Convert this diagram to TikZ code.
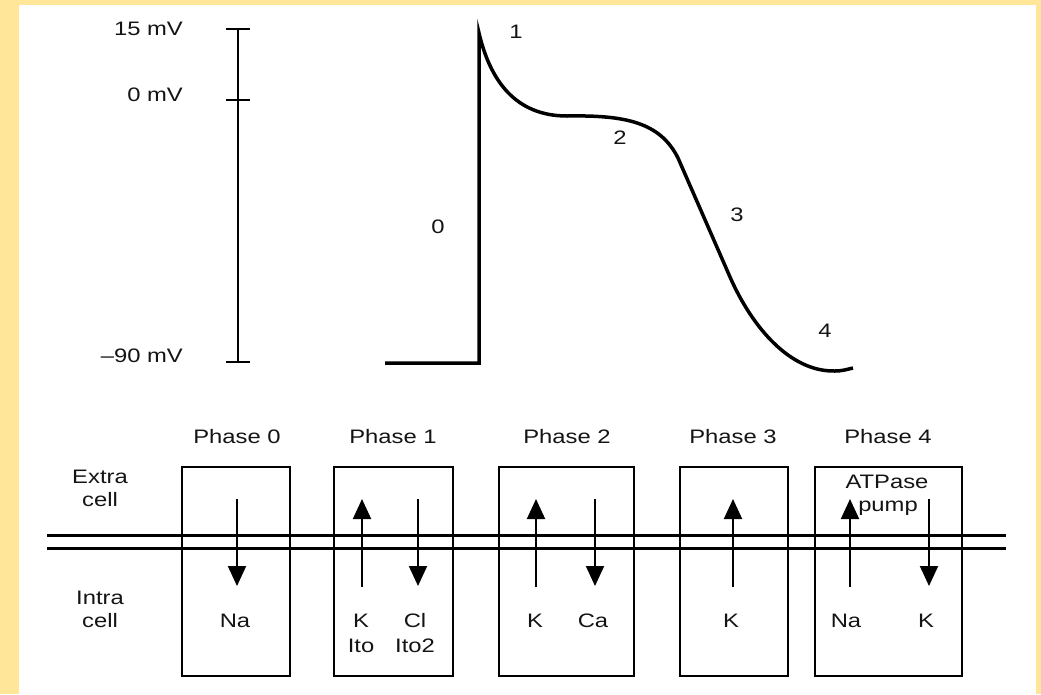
\documentclass[tikz,border=0pt]{standalone}
\usepackage{fontspec}
\setmainfont[FakeStretch=1.22]{Liberation Sans}
\usetikzlibrary{arrows.meta}
\definecolor{frameyellow}{HTML}{FFE699}
\definecolor{ink}{HTML}{141414}
\begin{document}
\begin{tikzpicture}[x=1pt,y=-1pt,
  lbl/.style={font=\fontsize{19.5}{23}\selectfont, text=ink, inner sep=0pt},
  phasebox/.style={draw, line width=2pt, inner sep=0pt, minimum height=209pt},
  ion/.style={line width=2pt, -{Triangle[width=18pt,length=20pt]}},
  membrane/.style={line width=3pt},
  apcurve/.style={line width=3.5pt, line join=miter},
  bar/.style={line width=2pt}]
\useasboundingbox (0,0) rectangle (1041,694);
\fill[frameyellow] (0,0) rectangle (1041,694);
\fill[white] (19,5) rectangle (1036,694);

% scale bar
\coordinate (barTop) at (238,29);
\coordinate (barZero) at (238,100);
\coordinate (barBot) at (238,362);
\draw[bar] (barTop) -- (barBot);
\draw[bar] ([xshift=-12pt]barTop) -- ([xshift=12pt]barTop);
\draw[bar] ([xshift=-12pt]barZero) -- ([xshift=12pt]barZero);
\draw[bar] ([xshift=-12pt]barBot) -- ([xshift=12pt]barBot);
\node[lbl, anchor=east] (l15) at (183,28.5) {15 mV};
\node[lbl, anchor=east] (l0) at (183,94.5) {0 mV};
\node[lbl, anchor=east] (l90) at (183,355.5) {–90 mV};

% action potential
\draw[apcurve] (385,363) -- (479,363) -- (479,33)
  .. controls (490,80) and (515,116) .. (567,116)
  .. controls (625,115) and (660,122) .. (678,158)
  -- (730,277)
  .. controls (752,327) and (790,372) .. (835,371)
  .. controls (843,371) and (848,369) .. (853,368);
\node[lbl] (p1) at (516,32) {1};
\node[lbl] (p2) at (620,137.5) {2};
\node[lbl] (p3) at (737,215) {3};
\node[lbl] (p4) at (825,330.5) {4};
\node[lbl] (p0) at (438,227) {0};

% boxes
\node[phasebox, minimum width=108pt] (b0) at (236,571.5) {};
\node[phasebox, minimum width=119pt] (b1) at (393.5,571.5) {};
\node[phasebox, minimum width=135pt] (b2) at (566.5,571.5) {};
\node[phasebox, minimum width=108pt] (b3) at (734,571.5) {};
\node[phasebox, minimum width=147pt] (b4) at (888.5,571.5) {};

% membrane
\coordinate (mA1) at (47,535);
\coordinate (mA2) at (1006,535);
\coordinate (mB1) at (47,548);
\coordinate (mB2) at (1006,548);
\draw[membrane] (mA1) -- (mA2);
\draw[membrane] (mB1) -- (mB2);

% phase labels
\node[lbl, anchor=base] (ph0) at (237,443) {Phase 0};
\node[lbl, anchor=base] (ph1) at (393,443) {Phase 1};
\node[lbl, anchor=base] (ph2) at (567,443) {Phase 2};
\node[lbl, anchor=base] (ph3) at (733,443) {Phase 3};
\node[lbl, anchor=base] (ph4) at (888,443) {Phase 4};

% side labels
\node[lbl, anchor=base] (ex1) at (100,483) {Extra};
\node[lbl, anchor=base] (ex2) at (100,506) {cell};
\node[lbl, anchor=base] (in1) at (100,604) {Intra};
\node[lbl, anchor=base] (in2) at (100,627) {cell};

% arrows
\coordinate (a0s) at (237,499); \coordinate (a0e) at (237,586);
\coordinate (a1s) at (362,587); \coordinate (a1e) at (362,499);
\coordinate (a2s) at (418,499); \coordinate (a2e) at (418,586);
\coordinate (a3s) at (536,587); \coordinate (a3e) at (536,499);
\coordinate (a4s) at (595,499); \coordinate (a4e) at (595,586);
\coordinate (a5s) at (733,587); \coordinate (a5e) at (733,499);
\coordinate (a6s) at (850,587); \coordinate (a6e) at (850,499);
\coordinate (a7s) at (929,499); \coordinate (a7e) at (929,586);
\foreach \i in {0,...,7} {\draw[ion] (a\i s) -- (a\i e);}

% ion labels
\node[lbl, anchor=base] (na0) at (235,627) {Na};
\node[lbl, anchor=base] (k1) at (361,627) {K};
\node[lbl, anchor=base] (ito) at (361,652) {Ito};
\node[lbl, anchor=base] (cl1) at (415,627) {Cl};
\node[lbl, anchor=base] (ito2) at (415,652) {Ito2};
\node[lbl, anchor=base] (k2) at (535,627) {K};
\node[lbl, anchor=base] (ca2) at (593,627) {Ca};
\node[lbl, anchor=base] (k3) at (731,627) {K};
\node[lbl, anchor=base] (na4) at (846,627) {Na};
\node[lbl, anchor=base] (k4) at (926,627) {K};
\node[lbl, anchor=base] (atp) at (887,488) {ATPase};
\node[lbl, anchor=base] (pump) at (888,511) {pump};
\end{tikzpicture}
\end{document}
